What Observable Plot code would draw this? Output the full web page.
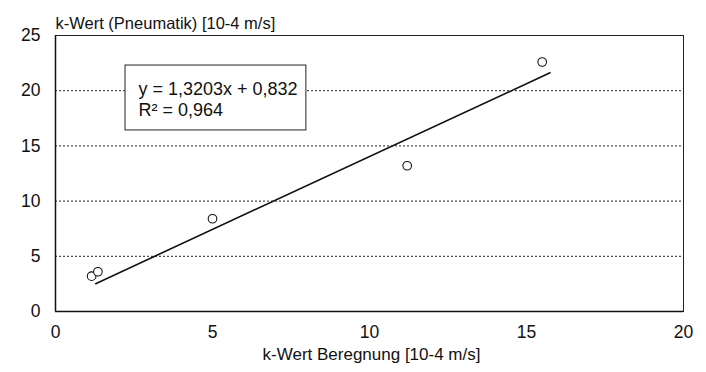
<!DOCTYPE html>
<html>
<head>
<meta charset="utf-8">
<script src="https://cdn.jsdelivr.net/npm/d3@7"></script>
<script src="https://cdn.jsdelivr.net/npm/@observablehq/plot@0.6"></script>
<style>
  html, body { margin: 0; padding: 0; background: #fff; }
  #chart { width: 706px; height: 372px; }
</style>
</head>
<body>
<div id="chart"></div>
<script>
const xValues = [1.15, 1.35, 5.0, 11.2, 15.5];
const yValues = [3.2, 3.6, 8.4, 13.2, 22.6];
const slope = 1.3203;
const intercept = 0.832;
const fitRange = [1.28, 15.75];
const xTicks = [0, 5, 10, 15, 20];
const yTicks = [0, 5, 10, 15, 20, 25];
const gridTicks = [5, 10, 15, 20];
const eqLabel = "y = 1,3203x + 0,832";
const r2Label = "R\u00b2 = 0,964";
const yTitle = "k-Wert (Pneumatik) [10-4 m/s]";
const xTitle = "k-Wert Beregnung [10-4 m/s]";

const points = xValues.map((x, i) => ({x, y: yValues[i]}));
const fit = fitRange.map(x => ({x, y: slope * x + intercept}));

const chart = Plot.plot({
  width: 706,
  height: 372,
  marginLeft: 55,
  marginRight: 23,
  marginTop: 35,
  marginBottom: 61,
  style: {fontFamily: "'Liberation Sans', Arial, sans-serif", background: "#fff", color: "#111"},
  x: {domain: [0, 20]},
  y: {domain: [0, 25]},
  marks: [
    Plot.ruleY(gridTicks, {stroke: "#222", strokeDasharray: "2,2", strokeWidth: 1}),
    Plot.rect([0], {x1: 2.23, x2: 7.99, y1: 16.4, y2: 22.28, fill: "#fff", stroke: "#222", strokeWidth: 1}),
    Plot.text([eqLabel], {x: 2.64, y: 20.1, text: d => d, textAnchor: "start", fontSize: 18, fill: "#111"}),
    Plot.text([r2Label], {x: 2.64, y: 18.2, text: d => d, textAnchor: "start", fontSize: 18, fill: "#111"}),
    Plot.frame({stroke: "#222", strokeWidth: 1}),
    Plot.ruleX([0], {stroke: "#111", strokeWidth: 1.5}),
    Plot.ruleY([0], {stroke: "#111", strokeWidth: 1.5}),
    Plot.line(fit, {x: "x", y: "y", stroke: "#111", strokeWidth: 1.6}),
    Plot.dot(points, {x: "x", y: "y", r: 4.3, stroke: "#111", strokeWidth: 1.1, fill: "#fff"}),
    Plot.axisX(xTicks, {tickSize: 0, tickPadding: 14, fontSize: 17.5, label: null}),
    Plot.axisY(yTicks, {tickSize: 0, tickPadding: 15, fontSize: 17.5, label: null}),
    Plot.text([xTitle], {frameAnchor: "bottom", lineAnchor: "middle", dy: 43, dx: 2, fontSize: 17, fill: "#111"}),
    Plot.text([yTitle], {frameAnchor: "top-left", lineAnchor: "middle", textAnchor: "start", dy: -12, fontSize: 16.5, fill: "#111"})
  ]
});
document.getElementById("chart").appendChild(chart);
</script>
</body>
</html>
